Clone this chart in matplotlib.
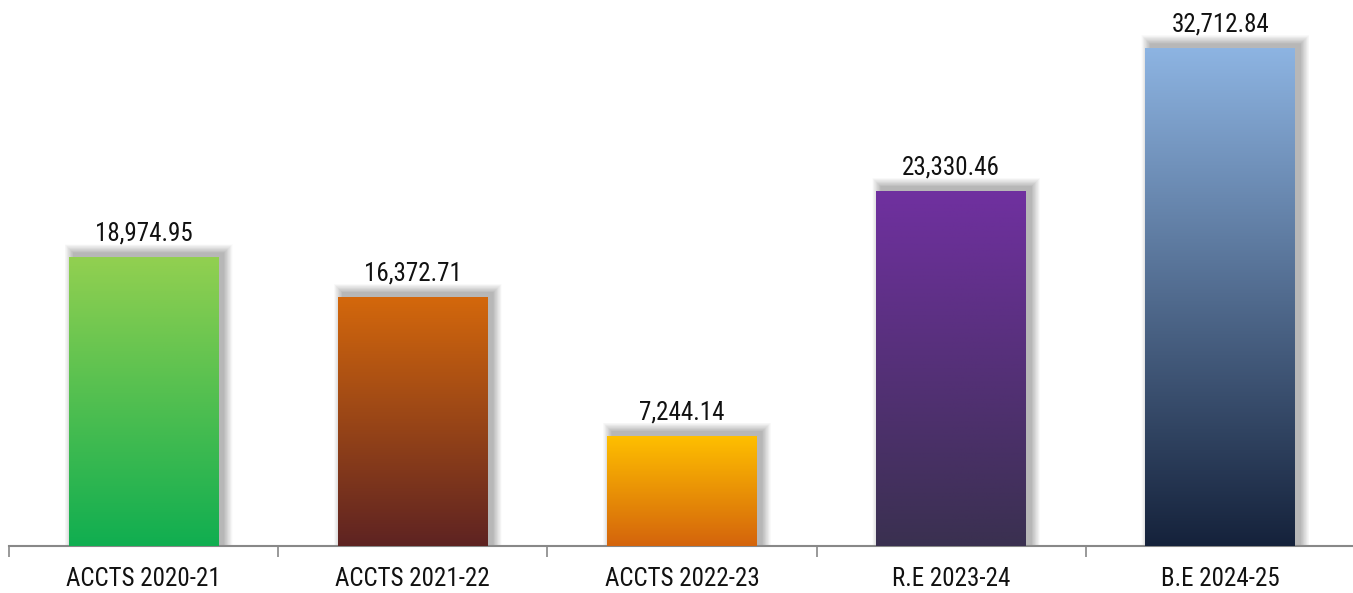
import numpy as np
import matplotlib.pyplot as plt
from matplotlib.colors import LinearSegmentedColormap
from matplotlib.patches import Rectangle

categories = ["ACCTS 2020-21", "ACCTS 2021-22", "ACCTS 2022-23", "R.E 2023-24", "B.E 2024-25"]
values = [18974.95, 16372.71, 7244.14, 23330.46, 32712.84]
top_colors = ["#92D050", "#D4680C", "#FFC000", "#7030A0", "#8DB4E2"]
bottom_colors = ["#10AE50", "#5E2322", "#D4640C", "#3A3050", "#15223B"]

plt.rcParams["font.family"] = ["Roboto Condensed", "DejaVu Sans"]

fig = plt.figure(figsize=(13.53, 5.93), dpi=100)
ax = fig.add_axes([9 / 1353, 47 / 593, 1346 / 1353, 546 / 593])

x = np.arange(len(categories))
width = 0.557
ymax = 35870
ax.set_xlim(-0.5, len(categories) - 0.5)
ax.set_ylim(0, ymax)

# soft drop shadow (offset right/up), in pixel units converted to data
px = 1 / 269.2
py = ymax / 546
for xi, v in zip(x, values):
    n = 24
    for k in range(n):
        r = 9 * (1 - k / n)
        ax.add_patch(Rectangle((xi - width / 2 + (5 - r) * px, 0),
                               width + 2 * r * px, v + (4 + r) * py,
                               facecolor="#000000", alpha=0.011,
                               edgecolor="none", zorder=1))

bars = ax.bar(x, values, width=width, color="none", edgecolor="none", zorder=2)
for b, c0, c1 in zip(bars, top_colors, bottom_colors):
    cmap = LinearSegmentedColormap.from_list("g", [c1, c0])
    grad = np.linspace(0, 1, 256).reshape(-1, 1)
    x0, y0 = b.get_x(), b.get_y()
    im = ax.imshow(grad, cmap=cmap, aspect="auto", origin="lower",
                   extent=[x0, x0 + b.get_width(), y0, y0 + b.get_height()], zorder=3)
    im.set_clip_path(b)
    ax.text(b.get_x() + b.get_width() / 2, b.get_height() + 750, f"{b.get_height():,.2f}",
            ha="center", va="bottom", fontsize=18, color="#111111", zorder=4)

ax.set_xlim(-0.5, len(categories) - 0.5)
ax.set_ylim(0, ymax)

for s in ["top", "right", "left"]:
    ax.spines[s].set_visible(False)
ax.spines["bottom"].set_color("#888888")
ax.spines["bottom"].set_linewidth(1.5)
ax.set_yticks([])
ax.set_xticks(np.arange(-0.5, len(categories)), minor=False)
ax.set_xticklabels([])
ax.tick_params(axis="x", length=8, color="#888888", width=1.2)
ax.set_xticks(x, minor=True)
ax.set_xticklabels(categories, minor=True, fontsize=18, color="#111111")
ax.tick_params(axis="x", which="minor", length=0, pad=15)

fig.savefig("out.png", dpi=100)
